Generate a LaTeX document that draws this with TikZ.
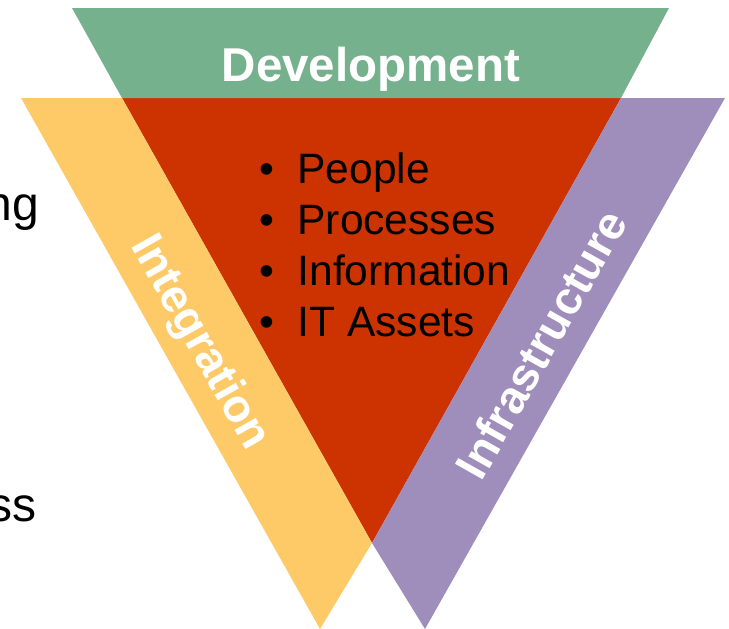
\documentclass[tikz,border=0pt]{standalone}
\usepackage{fontspec}
\setmainfont{Liberation Sans}
\definecolor{devgreen}{RGB}{117,177,141}
\definecolor{intyellow}{RGB}{254,202,104}
\definecolor{corered}{RGB}{204,51,0}
\definecolor{infpurple}{RGB}{159,141,187}
\tikzset{
  band/.style={draw=none},
  bandlabel/.style={text=white, font=\fontsize{46}{52}\selectfont\bfseries, inner sep=0pt},
  itemtext/.style={text=black, font=\fontsize{42.5}{51}\selectfont, inner sep=0pt, anchor=base west},
  sidetext/.style={text=black, font=\fontsize{48}{56}\selectfont, inner sep=0pt, anchor=base east}
}
\begin{document}
\begin{tikzpicture}[x=1pt,y=-1pt]
\useasboundingbox (0,0) rectangle (729,629);
% corner coordinates
\coordinate (gTL) at (72,8);
\coordinate (gTR) at (669,8);
\coordinate (gBR) at (621,98);
\coordinate (gBL) at (122,98);
\coordinate (apex) at (372,543);
\coordinate (yTL) at (21,98);
\coordinate (yTip) at (320,629);
\coordinate (pTR) at (725,98);
\coordinate (pTip) at (425,629);
% shapes
\fill[corered, band] (gBL) -- (gBR) -- (apex) -- cycle;
\fill[intyellow, band] (yTL) -- (gBL) -- (apex) -- (yTip) -- cycle;
\fill[infpurple, band] (gBR) -- (pTR) -- (pTip) -- (apex) -- cycle;
\fill[devgreen, band] (gTL) -- (gTR) -- (gBR) -- (gBL) -- cycle;
% labels
\node[bandlabel, anchor=base, font=\fontsize{47.5}{52}\selectfont\bfseries] (dev) at (371,81) {Development};
\node[bandlabel, rotate=-60.6] (integ) at (199,343) {Integration};
\node[bandlabel, rotate=60.6] (infra) at (541,344) {Infrastructure};
% bullet list
\node[itemtext] (i1) at (259.5,183) {\textbullet\hspace{23pt}People};
\node[itemtext] (i2) at (259.5,234) {\textbullet\hspace{23pt}Processes};
\node[itemtext] (i3) at (259.5,285) {\textbullet\hspace{23pt}Information};
\node[itemtext] (i4) at (259.5,336) {\textbullet\hspace{23pt}IT Assets};
% cut-off side text
\node[sidetext] (s1) at (39,220) {ng};
\node[sidetext] (s2) at (37,521) {ss};
\end{tikzpicture}
\end{document}
